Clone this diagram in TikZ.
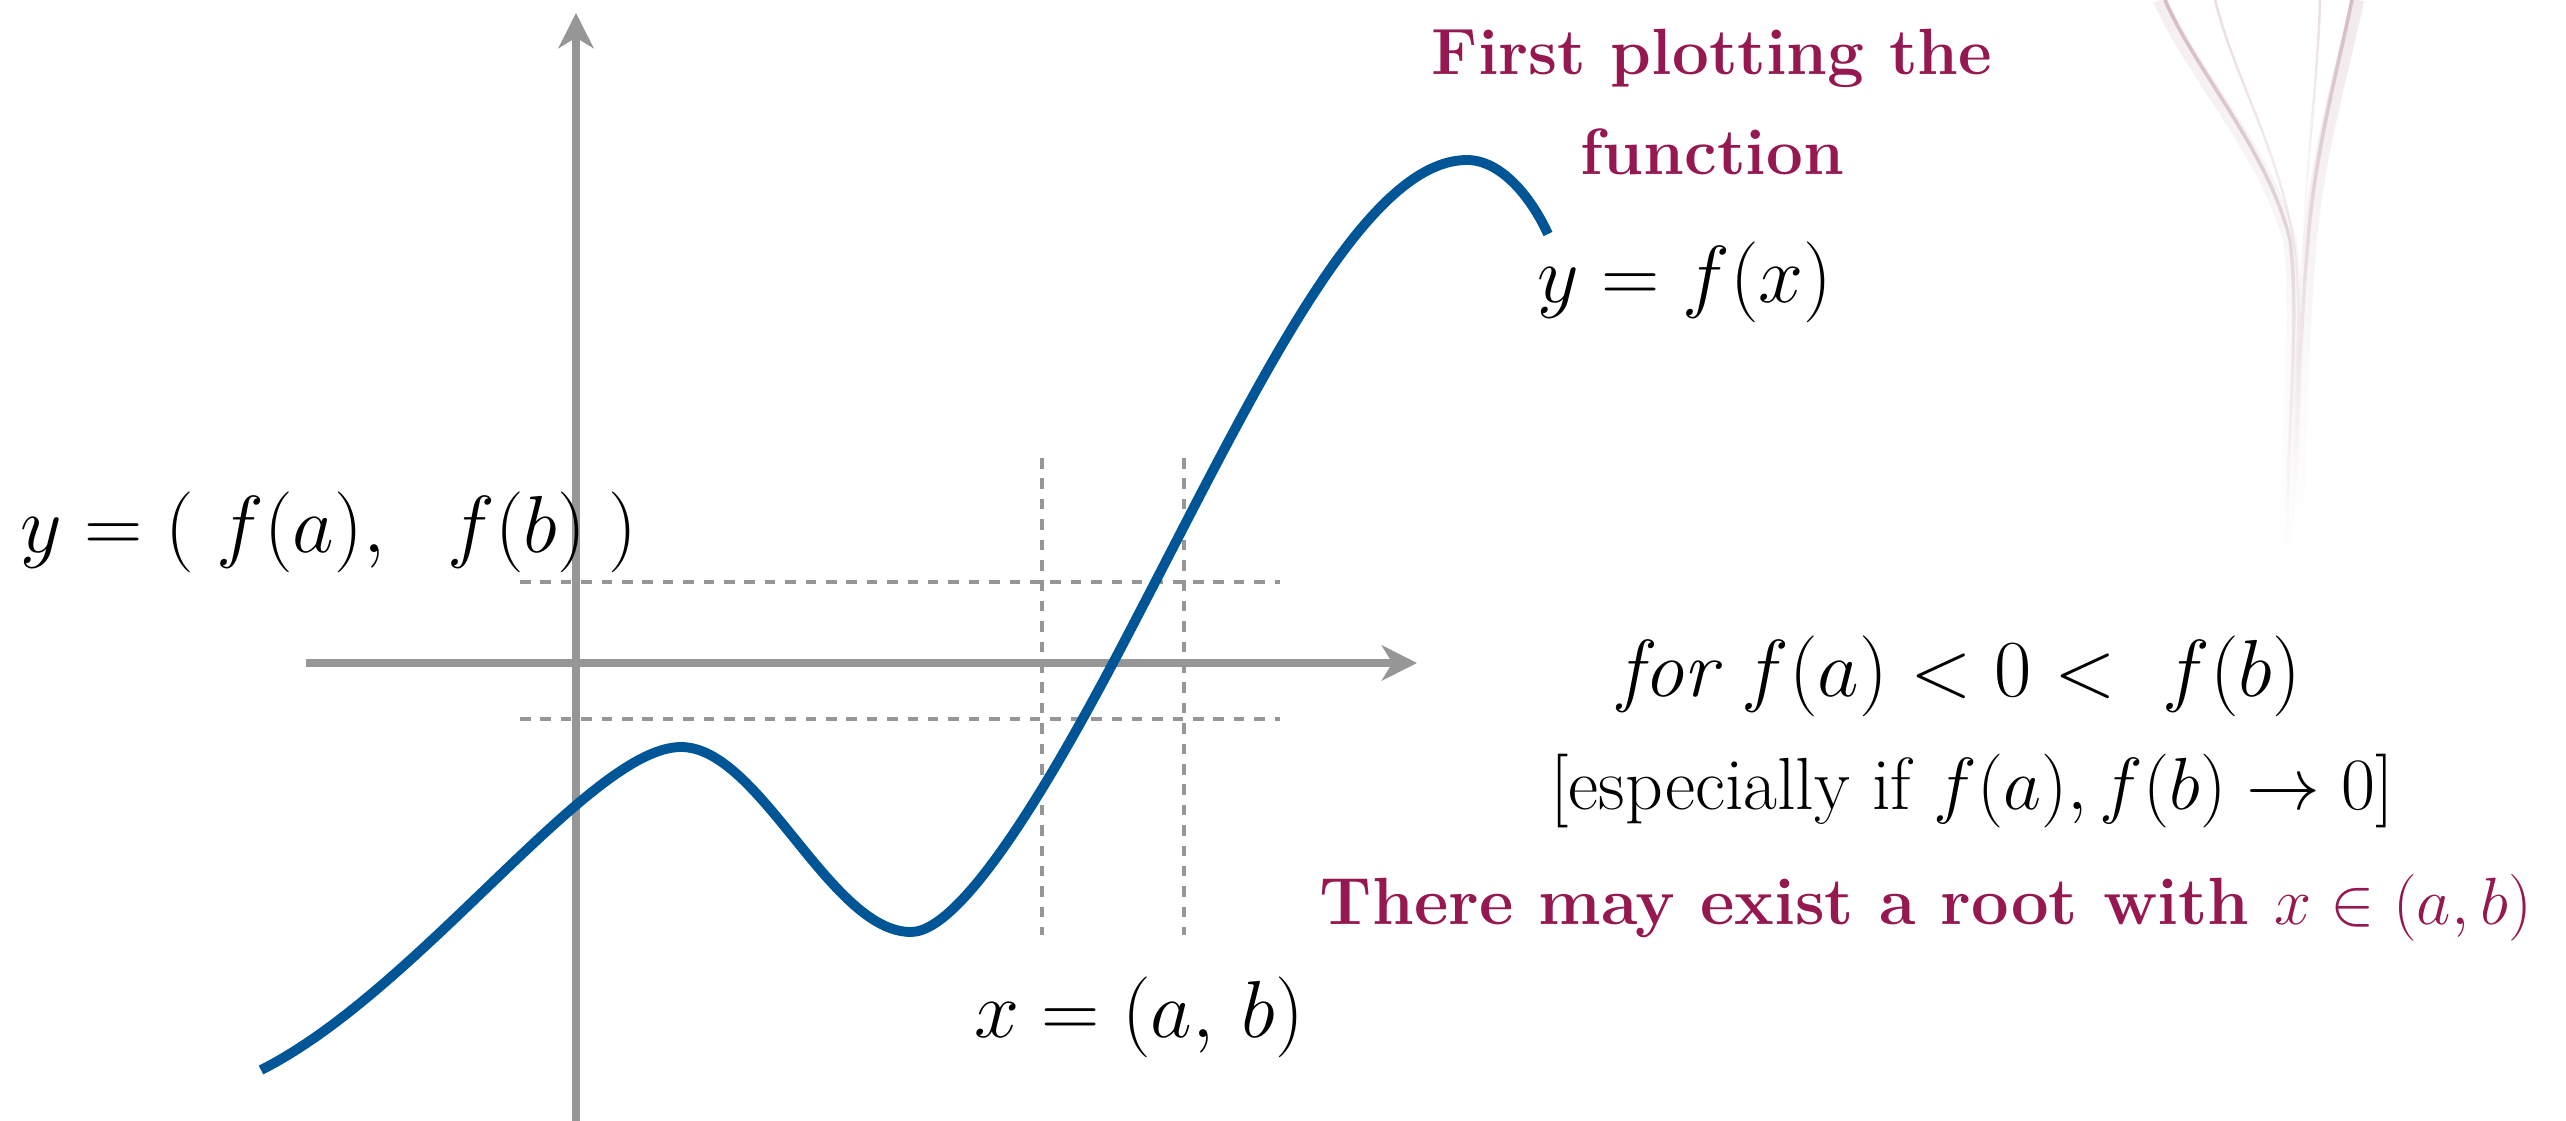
\RequirePackage{fix-cm}
\documentclass[tikz,border=0pt]{standalone}
\usepackage{amsmath}
\usepackage{amssymb}
\usetikzlibrary{arrows.meta, positioning, fadings}

\definecolor{axisgray}{RGB}{150,150,150}
\definecolor{curveblue}{RGB}{0,85,150}
\definecolor{plotmaroon}{RGB}{150,24,80}
\definecolor{smokepink}{RGB}{185,145,160}

\begin{document}
\begin{tikzpicture}[x=0.01cm, y=-0.01cm,
    axis/.style={axisgray, line width=2.3pt, -{Stealth[length=10pt, width=10pt, inset=3pt]}},
    bound/.style={axisgray, line width=1.3pt, dash pattern=on 3pt off 2.8pt},
    func/.style={curveblue, line width=2.8pt},
    mathlabel/.style={inner sep=0pt, font=\fontsize{23}{28}\selectfont},
    note/.style={inner sep=0pt, font=\fontsize{21}{25}\selectfont},
    headline/.style={inner sep=0pt, plotmaroon, align=center, font=\bfseries\fontsize{18.6}{28.5}\selectfont},
    smoke/.style={smokepink, path fading=south}]

  \useasboundingbox (0,0) rectangle (2566,1121);

  % smoke in the corner
  \draw[smoke, line width=4pt, opacity=0.15] (2160,0) .. controls (2190,70) and (2265,150) .. (2290,240) .. controls (2300,320) and (2287,430) .. (2287,560);
  \draw[smoke, line width=1pt, opacity=0.55] (2165,0) .. controls (2195,70) and (2268,150) .. (2290,240) .. controls (2300,320) and (2287,430) .. (2287,550);
  \draw[smoke, line width=4pt, opacity=0.2] (2357,0) .. controls (2345,60) and (2318,150) .. (2310,240) .. controls (2302,330) and (2300,420) .. (2298,520);
  \draw[smoke, line width=1pt, opacity=0.5] (2352,0) .. controls (2340,60) and (2315,150) .. (2308,240) .. controls (2300,330) and (2298,420) .. (2296,500);
  \draw[smoke, line width=0.7pt, opacity=0.3] (2215,0) .. controls (2235,80) and (2280,150) .. (2295,250) .. controls (2302,320) and (2295,400) .. (2293,480);
  \draw[smoke, line width=0.7pt, opacity=0.3] (2320,0) .. controls (2318,80) and (2305,170) .. (2303,260);

  % axes
  \coordinate (xl) at (306,663);
  \coordinate (xr) at (1417,663);
  \coordinate (yb) at (576,1121);
  \coordinate (yt) at (576,13);
  \draw[axis] (xl) -- (xr);
  \draw[axis] (yb) -- (yt);

  % dashed bounds
  \coordinate (fbl) at (520,582);
  \coordinate (fbr) at (1280,582);
  \coordinate (fal) at (520,719);
  \coordinate (far) at (1280,719);
  \coordinate (at) at (1042,458);
  \coordinate (ab) at (1042,935);
  \coordinate (bt) at (1184,458);
  \coordinate (bb) at (1184,935);
  \draw[bound] (fbl) -- (fbr);
  \draw[bound] (fal) -- (far);
  \draw[bound] (at) -- (ab);
  \draw[bound] (bt) -- (bb);

  % the function
  \draw[func] (261,1070) .. controls (420,990) and (590,747) .. (681,747)
    .. controls (760,747) and (830,932) .. (911,932)
    .. controls (966,932) and (1063,757) .. (1113,663)
    .. controls (1243,417) and (1357,160) .. (1467,160)
    .. controls (1500,160) and (1530,195) .. (1548,234);

  % labels
  \node[headline] (title) at (1712,102) {First plotting the\\function};
  \node[mathlabel] (fx) at (1685,282) {$y=f(x)$};
  \node[mathlabel] (yrange) at (329,532) {$y=(\;f(a),\ \ f(b)\;)$};
  \node[mathlabel] (xrange) at (1139,1017) {$x=(a,\,b)$};
  \node[inner sep=0pt, font=\fontsize{23}{28}\selectfont] (cond) at (1960,676) {$\textit{for}\ f(a)<0<\ f(b)$};
  \node[note] (esp) at (1972,791) {[especially if $f(a), f(b)\to 0$]};
  \node[headline, font=\bfseries\fontsize{19}{28.5}\selectfont] (root) at (1926,908) {There may exist a root with $x\in(a,b)$};
\end{tikzpicture}
\end{document}
